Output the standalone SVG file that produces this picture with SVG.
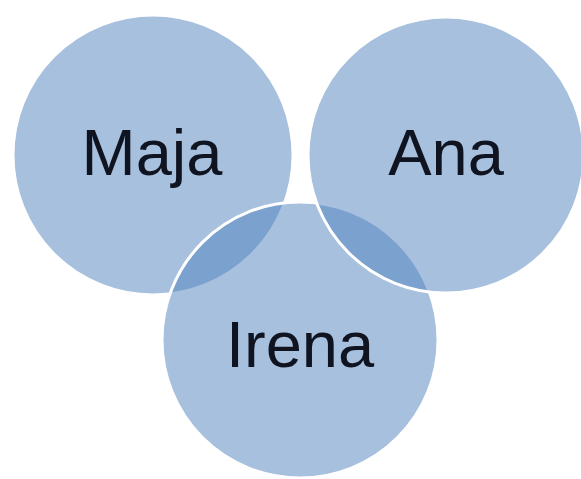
<svg xmlns="http://www.w3.org/2000/svg" width="581" height="479" viewBox="0 0 581 479">
<style>
.c{fill:#4F81BD;fill-opacity:0.5;stroke:#fff;stroke-width:3}
.t{font-family:"Liberation Sans",Arial,sans-serif;font-size:65px;fill:#101420;text-anchor:middle}
</style>
<rect width="581" height="479" fill="#fff"/>
<g id="maja"><circle class="c" cx="153" cy="155" r="140"/><text class="t" x="152" y="175">Maja</text></g>
<g id="irena"><circle class="c" cx="300" cy="340" r="138"/><text class="t" x="300" y="367">Irena</text></g>
<g id="ana"><circle class="c" cx="446" cy="155" r="138"/><text class="t" x="446" y="175">Ana</text></g>
<g id="connectors"/>
</svg>
